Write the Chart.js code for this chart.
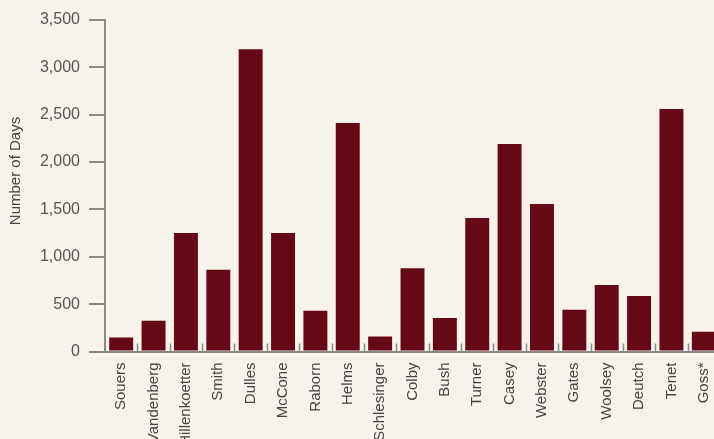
<!DOCTYPE html>
<html>
<head>
<meta charset="utf-8">
<script src="https://cdn.jsdelivr.net/npm/chart.js@4.4.1/dist/chart.umd.min.js"></script>
<style>
  html, body { margin: 0; padding: 0; overflow: hidden; background: #f7f3ea; }
  #wrap { width: 740px; height: 439px; }
</style>
</head>
<body>
<div id="wrap"><canvas id="grafico"></canvas></div>
<script>
const diretores = ["Souers", "Vandenberg", "Hillenkoetter", "Smith", "Dulles", "McCone", "Raborn",
  "Helms", "Schlesinger", "Colby", "Bush", "Turner", "Casey", "Webster", "Gates", "Woolsey",
  "Deutch", "Tenet", "Goss*"];
const dias = [148, 324, 1252, 862, 3190, 1250, 430, 2412, 158, 880, 355, 1410, 2190, 1556, 440,
  703, 587, 2561, 208];
const tituloY = "Number of Days";

const fonte = "'Liberation Sans Narrow', 'Liberation Sans', sans-serif";
const corEixo = "#8a8a8a";

// marquinhas entre categorias, pra dentro do gráfico
const marcasX = {
  id: "marcasX",
  afterDraw(chart) {
    const { ctx, chartArea, scales } = chart;
    const x = scales.x;
    ctx.save();
    ctx.strokeStyle = corEixo;
    ctx.lineWidth = 1.5;
    for (let i = 1; i < diretores.length; i++) {
      const px = Math.round((x.getPixelForTick(i - 1) + x.getPixelForTick(i)) / 2) + 0.5;
      ctx.beginPath();
      ctx.moveTo(px, chartArea.bottom);
      ctx.lineTo(px, chartArea.bottom - 8);
      ctx.stroke();
    }
    // título do eixo y
    ctx.fillStyle = "#444";
    ctx.font = "15px " + fonte;
    ctx.textAlign = "center";
    ctx.textBaseline = "middle";
    ctx.translate(16, 171);
    ctx.rotate(-Math.PI / 2);
    ctx.fillText(tituloY, 0, 0);
    ctx.restore();
  }
};

const ctx = document.getElementById("grafico").getContext("2d");
new Chart(ctx, {
  type: "bar",
  data: {
    labels: diretores,
    datasets: [{
      data: dias,
      backgroundColor: "#650916",
      barPercentage: 0.74,
      categoryPercentage: 1
    }]
  },
  options: {
    responsive: true,
    maintainAspectRatio: false,
    animation: false,
    layout: { padding: { top: 20, right: 20, left: 0, bottom: 0 } },
    plugins: { legend: { display: false }, tooltip: { enabled: false } },
    scales: {
      x: {
        grid: { drawOnChartArea: false, drawTicks: false },
        border: { color: corEixo, width: 2 },
        ticks: {
          minRotation: 90, maxRotation: 90, autoSkip: false, padding: 11,
          color: "#444", font: { family: fonte, size: 15 }
        },
        afterFit(s) { s.height = 87.5; }
      },
      y: {
        min: 0, max: 3500,
        grid: { drawOnChartArea: false, tickLength: 16, color: corEixo, lineWidth: 2 },
        border: { color: corEixo, width: 2 },
        ticks: {
          stepSize: 500, padding: 9, color: "#555",
          font: { family: fonte, size: 16 },
          callback: v => v.toLocaleString("en-US")
        },
        afterFit(s) { s.width = 105; }
      }
    }
  },
  plugins: [marcasX]
});
</script>
</body>
</html>
